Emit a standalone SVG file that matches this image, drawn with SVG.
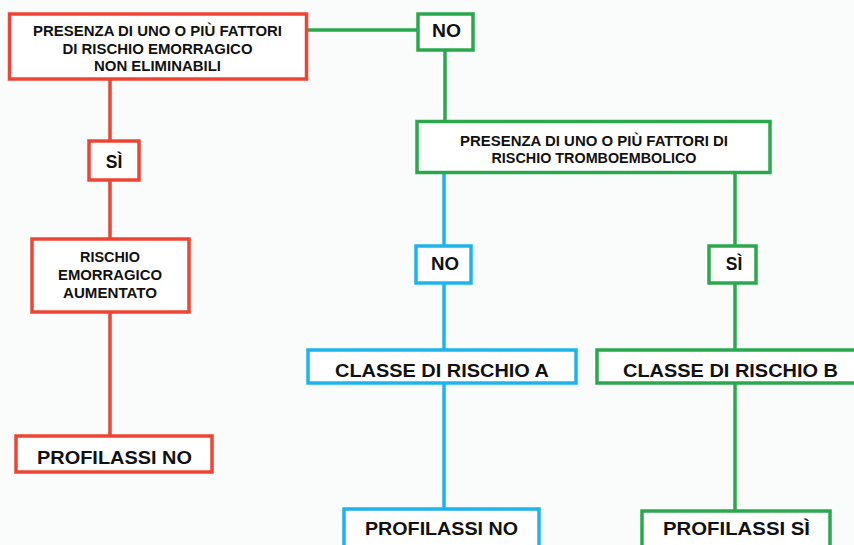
<svg xmlns="http://www.w3.org/2000/svg" width="854" height="545" viewBox="0 0 854 545">
<style>
.bg{fill:#fafcfc}
.box{fill:#ffffff;stroke-width:3.5}
.r{stroke:#ee4433}
.g{stroke:#2aa84c}
.b{stroke:#1db4ec}
.ln{fill:none;stroke-width:3.5}
text{font-family:"Liberation Sans",Arial,Helvetica,sans-serif;font-weight:bold;fill:#111111;text-anchor:middle}
.s{font-size:14px}
.m{font-size:17.5px}
.l{font-size:18.5px}
</style>
<rect class="bg" x="0" y="0" width="854" height="545"/>
<g id="connectors">
<line class="ln r" x1="110" y1="79" x2="110" y2="141"/>
<line class="ln r" x1="110" y1="180" x2="110" y2="239"/>
<line class="ln r" x1="110" y1="312" x2="110" y2="436"/>
<line class="ln g" x1="307" y1="30" x2="418" y2="30"/>
<line class="ln g" x1="445" y1="50" x2="445" y2="121"/>
<line class="ln b" x1="444" y1="173" x2="444" y2="246"/>
<line class="ln b" x1="444" y1="283" x2="444" y2="350"/>
<line class="ln b" x1="444" y1="383" x2="444" y2="509"/>
<line class="ln g" x1="735" y1="173" x2="735" y2="246"/>
<line class="ln g" x1="735" y1="283" x2="735" y2="350"/>
<line class="ln g" x1="735" y1="383" x2="735" y2="511"/>
</g>
<g id="n_presenza_emorragico">
<rect class="box r" x="9.5" y="14" width="297" height="65"/>
<text class="s" x="157.5" y="36" textLength="249" lengthAdjust="spacingAndGlyphs">PRESENZA DI UNO O PIÙ FATTORI</text>
<text class="s" x="157.5" y="53.5" textLength="190" lengthAdjust="spacingAndGlyphs">DI RISCHIO EMORRAGICO</text>
<text class="s" x="157.5" y="71" textLength="127" lengthAdjust="spacingAndGlyphs">NON ELIMINABILI</text>
</g>
<g id="n_no_top">
<rect class="box g" x="418" y="14" width="55" height="36"/>
<text class="m" x="446.5" y="37" textLength="29" lengthAdjust="spacingAndGlyphs">NO</text>
</g>
<g id="n_presenza_trombo">
<rect class="box g" x="417" y="121.5" width="353" height="51"/>
<text class="s" x="594" y="146" textLength="268" lengthAdjust="spacingAndGlyphs">PRESENZA DI UNO O PIÙ FATTORI DI</text>
<text class="s" x="594" y="163" textLength="205" lengthAdjust="spacingAndGlyphs">RISCHIO TROMBOEMBOLICO</text>
</g>
<g id="n_si_red">
<rect class="box r" x="89" y="141" width="50" height="39"/>
<text class="m" x="114" y="168">SÌ</text>
</g>
<g id="n_rischio_aumentato">
<rect class="box r" x="32" y="239" width="157" height="73"/>
<text class="s" x="110" y="262" textLength="60" lengthAdjust="spacingAndGlyphs">RISCHIO</text>
<text class="s" x="110" y="280" textLength="104" lengthAdjust="spacingAndGlyphs">EMORRAGICO</text>
<text class="s" x="110" y="298" textLength="94" lengthAdjust="spacingAndGlyphs">AUMENTATO</text>
</g>
<g id="n_profilassi_no_red">
<rect class="box r" x="16" y="436" width="196" height="36"/>
<text class="l" x="114.5" y="464" textLength="155" lengthAdjust="spacingAndGlyphs">PROFILASSI NO</text>
</g>
<g id="n_no_blue">
<rect class="box b" x="416" y="246" width="55" height="37"/>
<text class="m" x="445" y="270" textLength="28" lengthAdjust="spacingAndGlyphs">NO</text>
</g>
<g id="n_si_green">
<rect class="box g" x="709" y="246" width="47" height="37"/>
<text class="m" x="734" y="270">SÌ</text>
</g>
<g id="n_classe_a">
<rect class="box b" x="308" y="350" width="268" height="33"/>
<text class="l" x="442" y="377" textLength="214" lengthAdjust="spacingAndGlyphs">CLASSE DI RISCHIO A</text>
</g>
<g id="n_classe_b">
<rect class="box g" x="597" y="350" width="270" height="33"/>
<text class="l" x="730.5" y="377" textLength="215" lengthAdjust="spacingAndGlyphs">CLASSE DI RISCHIO B</text>
</g>
<g id="n_profilassi_no_blue">
<rect class="box b" x="344" y="509" width="195" height="45"/>
<text class="l" x="441.5" y="535" textLength="153" lengthAdjust="spacingAndGlyphs">PROFILASSI NO</text>
</g>
<g id="n_profilassi_si">
<rect class="box g" x="642" y="511" width="188" height="45"/>
<text class="l" x="736.5" y="535" textLength="147" lengthAdjust="spacingAndGlyphs">PROFILASSI SÌ</text>
</g>
</svg>
